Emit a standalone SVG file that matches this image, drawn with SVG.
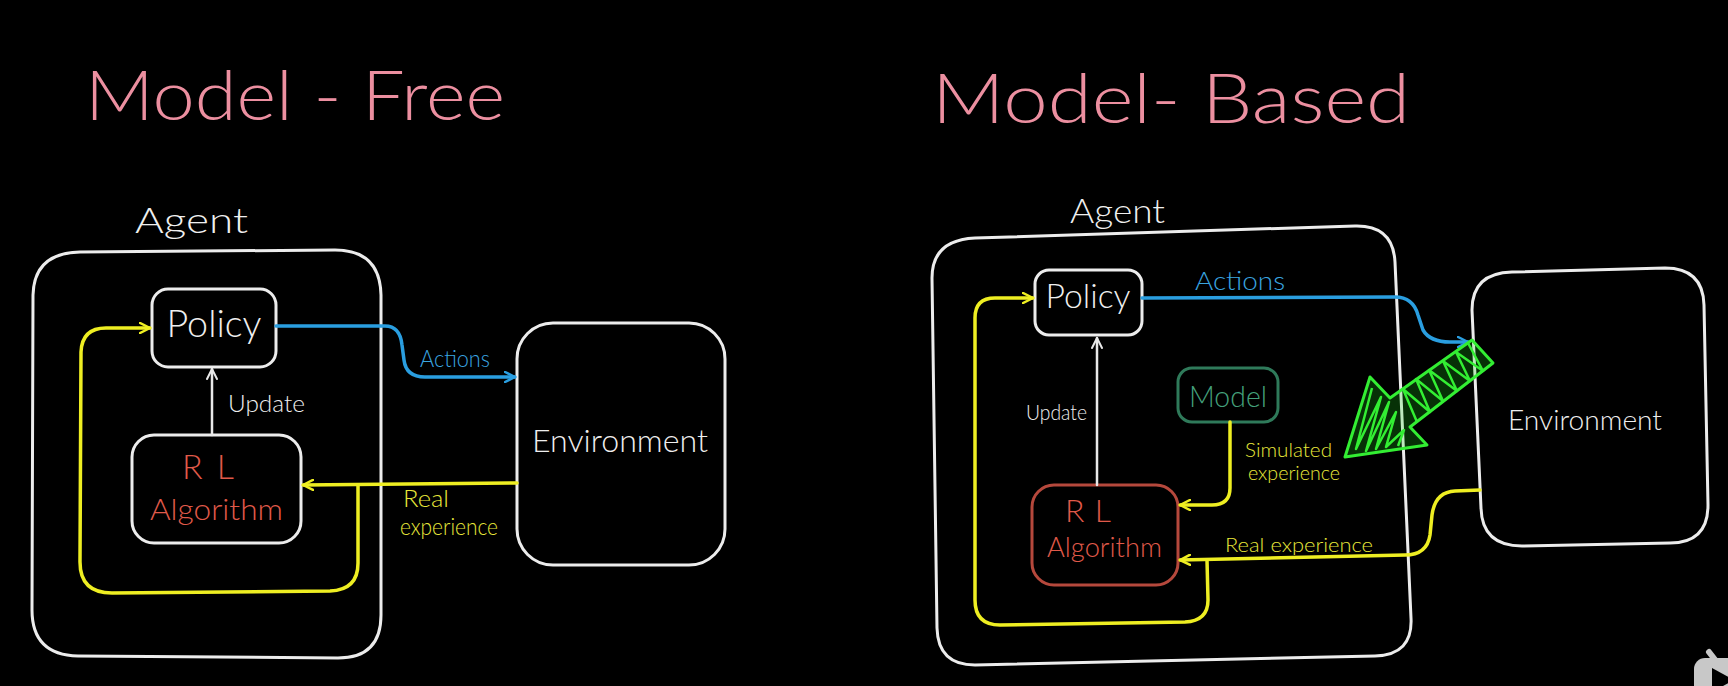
<svg xmlns="http://www.w3.org/2000/svg" width="1728" height="686" viewBox="0 0 1728 686">
<defs>
<style>
.bg{fill:#000}
.box{fill:none;stroke:#ececec;stroke-width:3;stroke-linejoin:round}
.t{font-family:Lato,"Open Sans","Liberation Sans",sans-serif;font-weight:300}
.w{fill:#efefef}
.title{fill:#ec8fa0;font-size:68px}
.red{fill:#e05a4a}
.blue{fill:#3aa6e0}
.yel{fill:#e8e83a}
.grn{fill:#44a07c}
.ly{fill:none;stroke:#eeee22;stroke-width:3.5;stroke-linecap:round;stroke-linejoin:round}
.lb{fill:none;stroke:#2a9ee0;stroke-width:3.5;stroke-linecap:round;stroke-linejoin:round}
.lw{fill:none;stroke:#e8e8e8;stroke-width:2.5;stroke-linecap:round}
</style>
<marker id="ay" viewBox="0 0 12 12" refX="11" refY="6" markerWidth="12" markerHeight="12" markerUnits="userSpaceOnUse" orient="auto"><path d="M1 1 L11 6 L1 11" fill="none" stroke="#eeee22" stroke-width="2.5" stroke-linecap="round" stroke-linejoin="round"/></marker>
<marker id="ab" viewBox="0 0 12 12" refX="11" refY="6" markerWidth="12" markerHeight="12" markerUnits="userSpaceOnUse" orient="auto"><path d="M1 1 L11 6 L1 11" fill="none" stroke="#2a9ee0" stroke-width="2.5" stroke-linecap="round" stroke-linejoin="round"/></marker>
<marker id="aw" viewBox="0 0 12 12" refX="11" refY="6" markerWidth="12" markerHeight="12" markerUnits="userSpaceOnUse" orient="auto"><path d="M1 1 L11 6 L1 11" fill="none" stroke="#e8e8e8" stroke-width="2" stroke-linecap="round" stroke-linejoin="round"/></marker>
</defs>
<rect class="bg" x="0" y="0" width="1728" height="686"/>

<text class="t title" x="85" y="120" textLength="420" lengthAdjust="spacingAndGlyphs">Model - Free</text>
<text class="t title" x="932" y="123" textLength="478" lengthAdjust="spacingAndGlyphs">Model- Based</text>

<!-- LEFT: Model-Free -->
<g id="mf-agent">
<path class="box" d="M80 252 L335 250 Q380 250 381 295 L381 615 Q381 658 338 658 L78 656 Q32 655 32 610 L33 295 Q34 253 80 252 Z"/>
<text class="t w" x="135" y="233" font-size="36" textLength="113" lengthAdjust="spacingAndGlyphs">Agent</text>
</g>
<g id="mf-policy">
<rect class="box" x="152" y="289" width="124" height="78" rx="16"/>
<text class="t w" x="214" y="337" font-size="38" text-anchor="middle" textLength="95" lengthAdjust="spacingAndGlyphs">Policy</text>
</g>
<g id="mf-rl">
<rect class="box" x="132" y="435" width="169" height="108" rx="22"/>
<text class="t red" x="208" y="479" font-size="34" text-anchor="middle" textLength="52" lengthAdjust="spacing">R L</text>
<text class="t red" x="150" y="520" font-size="30" textLength="133" lengthAdjust="spacingAndGlyphs">Algorithm</text>
</g>
<g id="mf-env">
<rect class="box" x="517" y="323" width="208" height="242" rx="36"/>
<text class="t w" x="532" y="452" font-size="32" textLength="176" lengthAdjust="spacingAndGlyphs">Environment</text>
</g>

<!-- RIGHT: Model-Based -->
<g id="mb-agent">
<path class="box" d="M975 238 L1355 226 Q1393 225 1395 262 L1411 618 Q1413 655 1375 656 L975 665 Q938 665 937 628 L932 278 Q932 240 975 238 Z"/>
<text class="t w" x="1070" y="223" font-size="34" textLength="95" lengthAdjust="spacingAndGlyphs">Agent</text>
</g>
<g id="mb-policy">
<rect class="box" x="1035" y="270" width="107" height="65" rx="14"/>
<text class="t w" x="1088" y="308" font-size="34" text-anchor="middle" textLength="85" lengthAdjust="spacingAndGlyphs">Policy</text>
</g>
<g id="mb-model">
<rect x="1178" y="368" width="100" height="54" rx="14" fill="none" stroke="#2f7a5a" stroke-width="3"/>
<text class="t grn" x="1228" y="407" font-size="30" text-anchor="middle" textLength="78" lengthAdjust="spacingAndGlyphs">Model</text>
</g>
<g id="mb-rl">
<rect x="1032" y="485" width="146" height="100" rx="22" fill="none" stroke="#b5483c" stroke-width="3"/>
<text class="t red" x="1088" y="522" font-size="32" text-anchor="middle" textLength="46" lengthAdjust="spacing">R L</text>
<text class="t red" x="1047" y="557" font-size="28" textLength="115" lengthAdjust="spacingAndGlyphs">Algorithm</text>
</g>
<g id="mb-env">
<path class="box" d="M1512 272 L1665 268 Q1703 268 1704 305 L1708 505 Q1708 543 1670 543 L1522 546 Q1482 546 1481 508 L1472 310 Q1472 273 1512 272 Z"/>
<text class="t w" x="1508" y="430" font-size="28" textLength="154" lengthAdjust="spacingAndGlyphs">Environment</text>
</g>

<g id="connectors">
<!-- left -->
<path class="lb" d="M276 326 L385 326 Q400 326 402 345 L404 360 Q406 377 425 377 L515 377" marker-end="url(#ab)"/>
<text class="t blue" x="420" y="367" font-size="24" textLength="70" lengthAdjust="spacingAndGlyphs">Actions</text>
<path class="lw" d="M212 435 L212 369" marker-end="url(#aw)"/>
<text class="t w" x="228" y="412" font-size="24" textLength="77" lengthAdjust="spacingAndGlyphs">Update</text>
<path class="ly" d="M517 483 L303 485" marker-end="url(#ay)"/>
<path class="ly" d="M358 485 L358 563 Q358 590 330 591 L112 593 Q80 593 80 562 L81 352 Q82 328 106 328 L150 328" marker-end="url(#ay)"/>
<text class="t yel" x="403" y="507" font-size="24" textLength="46" lengthAdjust="spacingAndGlyphs">Real</text>
<text class="t yel" x="400" y="535" font-size="24" textLength="98" lengthAdjust="spacingAndGlyphs">experience</text>

<!-- right -->
<path class="lb" d="M1142 298 L1395 297 Q1413 297 1418 315 L1423 330 Q1430 342 1450 342 L1468 342" marker-end="url(#ab)"/>
<text class="t blue" x="1195" y="290" font-size="26" textLength="90" lengthAdjust="spacingAndGlyphs">Actions</text>
<path class="lw" d="M1097 485 L1097 338" marker-end="url(#aw)"/>
<text class="t w" x="1026" y="420" font-size="22" textLength="61" lengthAdjust="spacingAndGlyphs">Update</text>
<path class="ly" d="M1230 422 L1230 488 Q1230 505 1212 505 L1180 505" marker-end="url(#ay)"/>
<text class="t yel" x="1245" y="457" font-size="20" textLength="87" lengthAdjust="spacingAndGlyphs">Simulated</text>
<text class="t yel" x="1248" y="480" font-size="20" textLength="92" lengthAdjust="spacingAndGlyphs">experience</text>
<path class="ly" d="M1480 490 L1455 491 Q1435 492 1432 515 L1430 535 Q1427 555 1405 555 L1180 560" marker-end="url(#ay)"/>
<path class="ly" d="M1207 560 L1208 600 Q1208 621 1185 622 L1000 625 Q975 625 975 600 L975 318 Q975 298 995 298 L1033 298" marker-end="url(#ay)"/>
<text class="t yel" x="1225" y="552" font-size="20" textLength="148" lengthAdjust="spacingAndGlyphs">Real experience</text>
</g>

<g id="green-arrow">
<polygon points="1472,340 1493,363 1410,427 1427,445 1345,457 1370,377 1390,398" fill="#22dd22" fill-opacity="0.22" stroke="#33ee33" stroke-width="3" stroke-linejoin="round"/>
<polyline points="1468,343 1483,371 1456,352 1470,381 1443,361 1457,391 1429,370 1443,401 1416,379 1430,412 1403,389 1417,422" fill="none" stroke="#33ee33" stroke-width="2.5" stroke-linejoin="round"/>
<polyline points="1372,388 1356,449 1381,397 1366,451 1389,402 1376,449 1396,412 1386,447 1404,430 1398,446" fill="none" stroke="#33ee33" stroke-width="2.5" stroke-linejoin="round"/>
</g>

<g id="corner-icon">
<path d="M1709 652 L1716 661" stroke="#c8c8c8" stroke-width="6" stroke-linecap="round"/>
<rect x="1694" y="658" width="60" height="50" rx="11" fill="#c8c8c8"/>
<polygon points="1712,668 1734,680 1712,692" fill="#000"/>
</g>
</svg>
